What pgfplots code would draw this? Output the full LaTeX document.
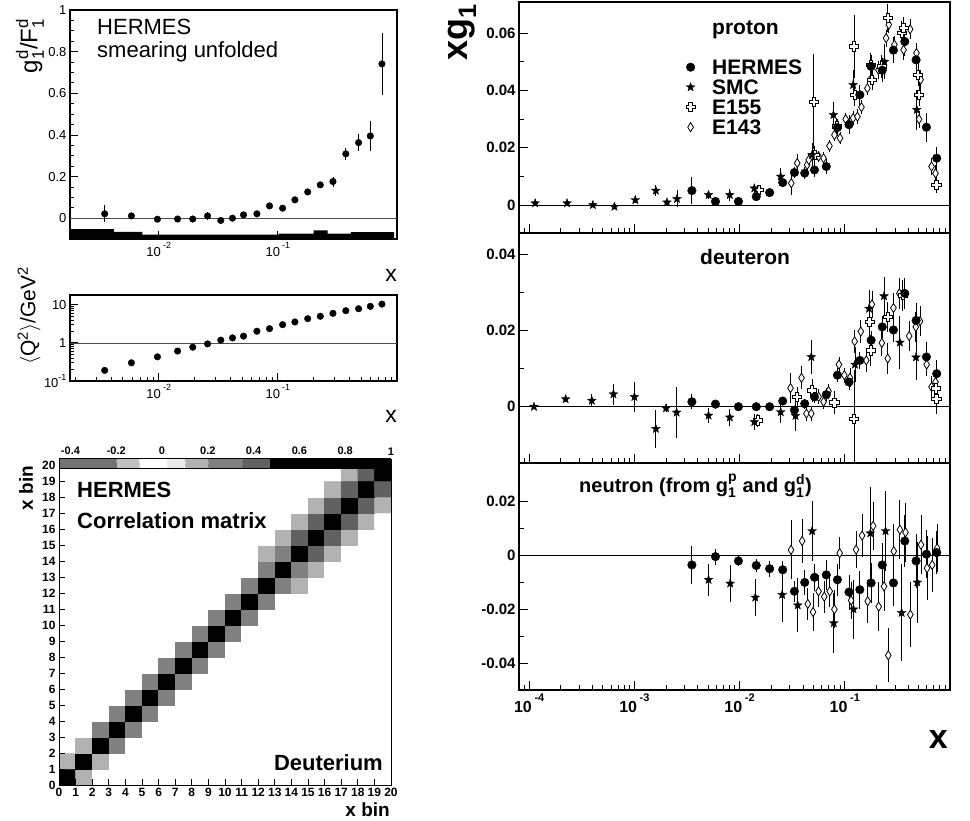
\documentclass[border=0pt]{standalone}
\usepackage{fontspec}
\setmainfont{Liberation Sans}
\usepackage{amsmath}
\usepackage{pgfplots}
\pgfplotsset{compat=1.18}
\newcommand\fs[1]{\fontsize{#1}{#1}\selectfont}

\pgfdeclareplotmark{fstar}{%
 \pgfpathmoveto{\pgfpointpolar{90}{\pgfplotmarksize}}%
 \pgfpathlineto{\pgfpointpolar{126}{0.42\pgfplotmarksize}}%
 \pgfpathlineto{\pgfpointpolar{162}{\pgfplotmarksize}}%
 \pgfpathlineto{\pgfpointpolar{198}{0.42\pgfplotmarksize}}%
 \pgfpathlineto{\pgfpointpolar{234}{\pgfplotmarksize}}%
 \pgfpathlineto{\pgfpointpolar{270}{0.42\pgfplotmarksize}}%
 \pgfpathlineto{\pgfpointpolar{306}{\pgfplotmarksize}}%
 \pgfpathlineto{\pgfpointpolar{342}{0.42\pgfplotmarksize}}%
 \pgfpathlineto{\pgfpointpolar{18}{\pgfplotmarksize}}%
 \pgfpathlineto{\pgfpointpolar{54}{0.42\pgfplotmarksize}}%
 \pgfpathclose\pgfusepathqfillstroke}
\pgfdeclareplotmark{ocross}{%
 \pgfpathmoveto{\pgfpoint{-\pgfplotmarksize}{0.36\pgfplotmarksize}}%
 \pgfpathlineto{\pgfpoint{-0.36\pgfplotmarksize}{0.36\pgfplotmarksize}}%
 \pgfpathlineto{\pgfpoint{-0.36\pgfplotmarksize}{\pgfplotmarksize}}%
 \pgfpathlineto{\pgfpoint{0.36\pgfplotmarksize}{\pgfplotmarksize}}%
 \pgfpathlineto{\pgfpoint{0.36\pgfplotmarksize}{0.36\pgfplotmarksize}}%
 \pgfpathlineto{\pgfpoint{\pgfplotmarksize}{0.36\pgfplotmarksize}}%
 \pgfpathlineto{\pgfpoint{\pgfplotmarksize}{-0.36\pgfplotmarksize}}%
 \pgfpathlineto{\pgfpoint{0.36\pgfplotmarksize}{-0.36\pgfplotmarksize}}%
 \pgfpathlineto{\pgfpoint{0.36\pgfplotmarksize}{-\pgfplotmarksize}}%
 \pgfpathlineto{\pgfpoint{-0.36\pgfplotmarksize}{-\pgfplotmarksize}}%
 \pgfpathlineto{\pgfpoint{-0.36\pgfplotmarksize}{-0.36\pgfplotmarksize}}%
 \pgfpathlineto{\pgfpoint{-\pgfplotmarksize}{-0.36\pgfplotmarksize}}%
 \pgfpathclose\pgfusepathqfillstroke}
\pgfdeclareplotmark{odiam}{%
 \pgfpathmoveto{\pgfpoint{0pt}{\pgfplotmarksize}}%
 \pgfpathlineto{\pgfpoint{0.62\pgfplotmarksize}{0pt}}%
 \pgfpathlineto{\pgfpoint{0pt}{-\pgfplotmarksize}}%
 \pgfpathlineto{\pgfpoint{-0.62\pgfplotmarksize}{0pt}}%
 \pgfpathclose\pgfusepathqfillstroke}

\pgfplotsset{
 colormap={hermesgray}{color(0pt)=(black!55) color(25pt)=(black!25) color(35pt)=(white) color(47pt)=(black!8) color(55pt)=(black!30) color(65pt)=(black!50) color(80pt)=(black!62) color(92pt)=(black) color(145pt)=(black)},
}

\begin{document}
\begin{tikzpicture}
\path[use as bounding box] (0pt,0pt) rectangle (970pt,-821pt);

% ---------------- g1/F1 ----------------
\begin{axis}[scale only axis, anchor=north west, tick align=inside, tick pos=left,
 axis line style={line width=1.2pt}, tick style={line width=0.8pt, black}, major tick length=8pt, minor tick length=4pt,
 at={(70pt,-10pt)}, width=327pt, height=229pt,
 xmode=log, xmin=0.0018, xmax=1, ymin=-0.1, ymax=1, scaled y ticks=false,
 xtick={0.01,0.1}, xticklabels={10\,\raisebox{0.6em}{\fs{9}-2},10\,\raisebox{0.6em}{\fs{9}-1}},
 minor xtick={0.002,0.003,0.004,0.005,0.006,0.007,0.008,0.009,0.02,0.03,0.04,0.05,0.06,0.07,0.08,0.09,0.2,0.3,0.4,0.5,0.6,0.7,0.8,0.9},
 ytick={0,0.2,0.4,0.6,0.8,1}, yticklabels={0,0.2,0.4,0.6,0.8,1}, minor y tick num=3,
 tick label style={font=\fs{13}}]
\addplot[fill=black, draw=none] coordinates {(0.0018,-0.1) (0.0018,-0.052) (0.0042,-0.052) (0.0042,-0.066) (0.0073,-0.066) (0.0073,-0.079) (0.102,-0.079) (0.102,-0.074) (0.2,-0.074) (0.2,-0.058) (0.262,-0.058) (0.262,-0.074) (0.41,-0.074) (0.41,-0.067) (0.944,-0.067) (0.944,-0.1)};
\addplot[black!70, line width=0.6pt] coordinates {(0.0018,0) (1,0)};
\addplot[only marks, mark=*, mark size=3.3pt, black, error bars/.cd, y dir=both, y explicit, error mark=none, error bar style={line width=0.8pt, black}] table[x=x, y=y, y error=e, row sep=\\] {
x y e\\ 0.00352 0.021 0.040\\ 0.0059 0.011 0.008\\ 0.00975 -0.005 0.006\\ 0.0144 -0.004 0.005\\
0.0193 -0.004 0.006\\ 0.0257 0.011 0.020\\ 0.0332 -0.011 0.008\\ 0.0416 0.000 0.008\\
0.0515 0.016 0.010\\ 0.0667 0.021 0.012\\ 0.0851 0.059 0.010\\ 0.1096 0.048 0.010\\
0.139 0.088 0.012\\ 0.178 0.126 0.012\\ 0.227 0.160 0.014\\ 0.290 0.176 0.024\\
0.372 0.309 0.028\\ 0.476 0.363 0.040\\ 0.597 0.395 0.072\\ 0.748 0.741 0.150\\
};
\end{axis}
\node[anchor=base west, inner sep=0pt, font=\fs{22}] at (97pt,-35pt) {HERMES};
\node[anchor=base west, inner sep=0pt, font=\fs{22}] at (97pt,-58pt) {smearing unfolded};
\node[rotate=90, inner sep=0pt, font=\fs{24}] at (30pt,-46pt) {g$^{\text{d}}_{\text{1}}$/F$^{\text{d}}_{\text{1}}$};
\node[anchor=base east, inner sep=0pt, font=\fs{23}] at (397pt,-282pt) {x};

% ---------------- Q2 ----------------
\begin{axis}[scale only axis, anchor=north west, tick align=inside, tick pos=left,
 axis line style={line width=1.2pt}, tick style={line width=0.8pt, black}, major tick length=8pt, minor tick length=4pt,
 at={(70pt,-295pt)}, width=327pt, height=86pt,
 xmode=log, ymode=log, xmin=0.0018, xmax=1, ymin=0.1, ymax=18,
 xtick={0.01,0.1}, xticklabels={10\,\raisebox{0.6em}{\fs{9}-2},10\,\raisebox{0.6em}{\fs{9}-1}},
 minor xtick={0.002,0.003,0.004,0.005,0.006,0.007,0.008,0.009,0.02,0.03,0.04,0.05,0.06,0.07,0.08,0.09,0.2,0.3,0.4,0.5,0.6,0.7,0.8,0.9},
 ytick={0.1,1,10}, yticklabels={10\raisebox{0.6em}{\fs{9}-1},1,10},
 tick label style={font=\fs{13}}]
\addplot[black!70, line width=0.6pt] coordinates {(0.0018,1) (1,1)};
\addplot[only marks, mark=*, mark size=3.3pt, black] table[x=x, y=y, row sep=\\] {
x y\\ 0.00352 0.19\\ 0.0059 0.30\\ 0.00975 0.43\\ 0.0144 0.61\\ 0.0193 0.77\\ 0.0257 0.94\\
0.0332 1.18\\ 0.0416 1.35\\ 0.0515 1.50\\ 0.0667 2.02\\ 0.0851 2.36\\ 0.1096 3.0\\ 0.139 3.53\\
0.178 4.31\\ 0.227 4.98\\ 0.290 5.96\\ 0.372 6.97\\ 0.476 7.86\\ 0.597 9.08\\ 0.748 10.4\\
};
\end{axis}
\node[rotate=90, inner sep=0pt, font=\fs{21}] at (29pt,-316pt) {$\langle$Q$^{\text{2}}\rangle$/GeV$^{\text{2}}$};
\node[anchor=base east, inner sep=0pt, font=\fs{23}] at (397pt,-422pt) {x};

% ---------------- correlation matrix ----------------
\begin{axis}[scale only axis, anchor=north west, tick align=inside, tick pos=left,
 tick style={line width=0.8pt, black},
 at={(59pt,-465pt)}, width=332pt, height=320pt,
 xmin=-0.5, xmax=19.5, ymin=-0.5, ymax=19.5, axis on top,
 xtick={-0.5,0.5,...,19.5}, ytick={-0.5,0.5,...,19.5},
 xticklabels={0,1,2,3,4,5,6,7,8,9,10,11,12,13,14,15,16,17,18,19,20},
 yticklabels={0,1,2,3,4,5,6,7,8,9,10,11,12,13,14,15,16,17,18,19,20},
 tick label style={font=\fs{12}\bfseries}, major tick length=6pt, axis line style={line width=1pt},
 colormap name=hermesgray, colormap access=piecewise constant,
 point meta min=-0.45, point meta max=1,
 colorbar horizontal,
 colorbar style={at={(parent axis.north west)}, anchor=south west, yshift=5pt, scale only axis, width=332pt, height=10pt,
   xtick={-0.4,-0.2,0,0.2,0.4,0.6,0.8,1}, xticklabels={-0.4,-0.2,0,0.2,0.4,0.6,0.8,1},
   xticklabel pos=upper, tick label style={font=\fs{11}\bfseries}, major tick length=0pt, axis line style={line width=0.5pt}}]
\addplot[matrix plot*, mesh/cols=20, point meta=explicit] coordinates {
(0,0)[1] (1,0)[.15] (2,0)[0] (3,0)[0] (4,0)[0] (5,0)[0] (6,0)[0] (7,0)[0] (8,0)[0] (9,0)[0] (10,0)[0] (11,0)[0] (12,0)[0] (13,0)[0] (14,0)[0] (15,0)[0] (16,0)[0] (17,0)[0] (18,0)[0] (19,0)[0]
(0,1)[.15] (1,1)[1] (2,1)[.15] (3,1)[0] (4,1)[0] (5,1)[0] (6,1)[0] (7,1)[0] (8,1)[0] (9,1)[0] (10,1)[0] (11,1)[0] (12,1)[0] (13,1)[0] (14,1)[0] (15,1)[0] (16,1)[0] (17,1)[0] (18,1)[0] (19,1)[0]
(0,2)[0] (1,2)[.15] (2,2)[1] (3,2)[.22] (4,2)[0] (5,2)[0] (6,2)[0] (7,2)[0] (8,2)[0] (9,2)[0] (10,2)[0] (11,2)[0] (12,2)[0] (13,2)[0] (14,2)[0] (15,2)[0] (16,2)[0] (17,2)[0] (18,2)[0] (19,2)[0]
(0,3)[0] (1,3)[0] (2,3)[.22] (3,3)[1] (4,3)[.3] (5,3)[0] (6,3)[0] (7,3)[0] (8,3)[0] (9,3)[0] (10,3)[0] (11,3)[0] (12,3)[0] (13,3)[0] (14,3)[0] (15,3)[0] (16,3)[0] (17,3)[0] (18,3)[0] (19,3)[0]
(0,4)[0] (1,4)[0] (2,4)[0] (3,4)[.3] (4,4)[1] (5,4)[.3] (6,4)[0] (7,4)[0] (8,4)[0] (9,4)[0] (10,4)[0] (11,4)[0] (12,4)[0] (13,4)[0] (14,4)[0] (15,4)[0] (16,4)[0] (17,4)[0] (18,4)[0] (19,4)[0]
(0,5)[0] (1,5)[0] (2,5)[0] (3,5)[0] (4,5)[.3] (5,5)[1] (6,5)[.3] (7,5)[0] (8,5)[0] (9,5)[0] (10,5)[0] (11,5)[0] (12,5)[0] (13,5)[0] (14,5)[0] (15,5)[0] (16,5)[0] (17,5)[0] (18,5)[0] (19,5)[0]
(0,6)[0] (1,6)[0] (2,6)[0] (3,6)[0] (4,6)[0] (5,6)[.3] (6,6)[1] (7,6)[.3] (8,6)[0] (9,6)[0] (10,6)[0] (11,6)[0] (12,6)[0] (13,6)[0] (14,6)[0] (15,6)[0] (16,6)[0] (17,6)[0] (18,6)[0] (19,6)[0]
(0,7)[0] (1,7)[0] (2,7)[0] (3,7)[0] (4,7)[0] (5,7)[0] (6,7)[.3] (7,7)[1] (8,7)[.3] (9,7)[0] (10,7)[0] (11,7)[0] (12,7)[0] (13,7)[0] (14,7)[0] (15,7)[0] (16,7)[0] (17,7)[0] (18,7)[0] (19,7)[0]
(0,8)[0] (1,8)[0] (2,8)[0] (3,8)[0] (4,8)[0] (5,8)[0] (6,8)[0] (7,8)[.3] (8,8)[1] (9,8)[.3] (10,8)[0] (11,8)[0] (12,8)[0] (13,8)[0] (14,8)[0] (15,8)[0] (16,8)[0] (17,8)[0] (18,8)[0] (19,8)[0]
(0,9)[0] (1,9)[0] (2,9)[0] (3,9)[0] (4,9)[0] (5,9)[0] (6,9)[0] (7,9)[0] (8,9)[.3] (9,9)[1] (10,9)[.3] (11,9)[0] (12,9)[0] (13,9)[0] (14,9)[0] (15,9)[0] (16,9)[0] (17,9)[0] (18,9)[0] (19,9)[0]
(0,10)[0] (1,10)[0] (2,10)[0] (3,10)[0] (4,10)[0] (5,10)[0] (6,10)[0] (7,10)[0] (8,10)[0] (9,10)[.3] (10,10)[1] (11,10)[.3] (12,10)[0] (13,10)[0] (14,10)[0] (15,10)[0] (16,10)[0] (17,10)[0] (18,10)[0] (19,10)[0]
(0,11)[0] (1,11)[0] (2,11)[0] (3,11)[0] (4,11)[0] (5,11)[0] (6,11)[0] (7,11)[0] (8,11)[0] (9,11)[0] (10,11)[.3] (11,11)[1] (12,11)[.3] (13,11)[0] (14,11)[0] (15,11)[0] (16,11)[0] (17,11)[0] (18,11)[0] (19,11)[0]
(0,12)[0] (1,12)[0] (2,12)[0] (3,12)[0] (4,12)[0] (5,12)[0] (6,12)[0] (7,12)[0] (8,12)[0] (9,12)[0] (10,12)[0] (11,12)[.3] (12,12)[1] (13,12)[.3] (14,12)[.12] (15,12)[0] (16,12)[0] (17,12)[0] (18,12)[0] (19,12)[0]
(0,13)[0] (1,13)[0] (2,13)[0] (3,13)[0] (4,13)[0] (5,13)[0] (6,13)[0] (7,13)[0] (8,13)[0] (9,13)[0] (10,13)[0] (11,13)[0] (12,13)[.3] (13,13)[1] (14,13)[.3] (15,13)[.12] (16,13)[0] (17,13)[0] (18,13)[0] (19,13)[0]
(0,14)[0] (1,14)[0] (2,14)[0] (3,14)[0] (4,14)[0] (5,14)[0] (6,14)[0] (7,14)[0] (8,14)[0] (9,14)[0] (10,14)[0] (11,14)[0] (12,14)[.12] (13,14)[.3] (14,14)[1] (15,14)[.4] (16,14)[.12] (17,14)[0] (18,14)[0] (19,14)[0]
(0,15)[0] (1,15)[0] (2,15)[0] (3,15)[0] (4,15)[0] (5,15)[0] (6,15)[0] (7,15)[0] (8,15)[0] (9,15)[0] (10,15)[0] (11,15)[0] (12,15)[0] (13,15)[.12] (14,15)[.4] (15,15)[1] (16,15)[.4] (17,15)[.12] (18,15)[0] (19,15)[0]
(0,16)[0] (1,16)[0] (2,16)[0] (3,16)[0] (4,16)[0] (5,16)[0] (6,16)[0] (7,16)[0] (8,16)[0] (9,16)[0] (10,16)[0] (11,16)[0] (12,16)[0] (13,16)[0] (14,16)[.12] (15,16)[.4] (16,16)[1] (17,16)[.4] (18,16)[.12] (19,16)[0]
(0,17)[0] (1,17)[0] (2,17)[0] (3,17)[0] (4,17)[0] (5,17)[0] (6,17)[0] (7,17)[0] (8,17)[0] (9,17)[0] (10,17)[0] (11,17)[0] (12,17)[0] (13,17)[0] (14,17)[0] (15,17)[.12] (16,17)[.4] (17,17)[1] (18,17)[.4] (19,17)[.12]
(0,18)[0] (1,18)[0] (2,18)[0] (3,18)[0] (4,18)[0] (5,18)[0] (6,18)[0] (7,18)[0] (8,18)[0] (9,18)[0] (10,18)[0] (11,18)[0] (12,18)[0] (13,18)[0] (14,18)[0] (15,18)[0] (16,18)[.12] (17,18)[.4] (18,18)[1] (19,18)[.4]
(0,19)[0] (1,19)[0] (2,19)[0] (3,19)[0] (4,19)[0] (5,19)[0] (6,19)[0] (7,19)[0] (8,19)[0] (9,19)[0] (10,19)[0] (11,19)[0] (12,19)[0] (13,19)[0] (14,19)[0] (15,19)[0] (16,19)[0] (17,19)[.12] (18,19)[.4] (19,19)[1]
};
\end{axis}
\node[anchor=base west, inner sep=0pt, font=\fs{22}\bfseries] at (77pt,-497pt) {HERMES};
\node[anchor=base west, inner sep=0pt, font=\fs{22}\bfseries] at (77pt,-528pt) {Correlation matrix};
\node[anchor=base east, inner sep=0pt, font=\fs{22}\bfseries] at (383pt,-770pt) {Deuterium};
\node[rotate=90, inner sep=0pt, font=\fs{19}\bfseries] at (26pt,-488pt) {x bin};
\node[anchor=base east, inner sep=0pt, font=\fs{19}\bfseries] at (390pt,-816pt) {x bin};

% ---------------- proton ----------------
\begin{axis}[scale only axis, anchor=north west, tick align=inside, tick pos=left,
 axis line style={line width=1.4pt}, tick style={line width=0.8pt, black}, major tick length=9pt, minor tick length=5pt,
 xmode=log, xmin=8e-5, xmax=1, width=431pt, xtick={1e-4,1e-3,1e-2,1e-1},
 minor xtick={9e-5,2e-4,3e-4,4e-4,5e-4,6e-4,7e-4,8e-4,9e-4,2e-3,3e-3,4e-3,5e-3,6e-3,7e-3,8e-3,9e-3,0.02,0.03,0.04,0.05,0.06,0.07,0.08,0.09,0.2,0.3,0.4,0.5,0.6,0.7,0.8,0.9},
 minor y tick num=1, tick label style={font=\fs{15}\bfseries}, scaled y ticks=false,
 at={(519pt,-2pt)}, height=231pt, ymin=-0.0098, ymax=0.0708, xticklabels={},
 ytick={0,0.02,0.04,0.06}, yticklabels={0,0.02,0.04,0.06},
 reverse legend, legend style={at={(0.387,0.762)}, anchor=north west, draw=none, fill=none, inner sep=0pt, font=\fs{21}\bfseries, nodes={inner xsep=3pt, inner ysep=2.5pt, text height=15pt, text depth=0pt}},
 legend cell align=left]
\addplot[black, line width=0.6pt, forget plot] coordinates {(8e-5,0) (1,0)};
\addplot[only marks, mark=odiam, mark size=4.6pt, mark options={fill=white, draw=black, line width=0.8pt}, error bars/.cd, y dir=both, y explicit, error mark=none, error bar style={line width=0.8pt, black}] table[x=x, y=y, y error=e, row sep=\\] {
x y e\\ 0.031 0.0076 0.0040\\ 0.0353 0.0146 0.0030\\ 0.0439 0.0140 0.0020\\ 0.0454 0.0157 0.0020\\
0.0564 0.0169 0.0020\\ 0.0628 0.0163 0.0020\\ 0.0715 0.0206 0.0020\\ 0.0797 0.0244 0.0020\\
0.0901 0.0233 0.0020\\ 0.102 0.0299 0.0020\\ 0.120 0.0303 0.0025\\ 0.132 0.0308 0.0025\\
0.144 0.0341 0.0025\\ 0.164 0.0407 0.0025\\ 0.179 0.0442 0.0025\\ 0.209 0.0471 0.0030\\
0.247 0.0582 0.0030\\ 0.262 0.0629 0.0030\\ 0.296 0.0559 0.0030\\ 0.362 0.0541 0.0035\\
0.418 0.0613 0.0035\\ 0.480 0.0530 0.0035\\ 0.526 0.0437 0.0035\\ 0.508 0.0299 0.0030\\
0.668 0.0134 0.0030\\ 0.728 0.0110 0.0030\\
};
\addlegendentry{\hspace{14pt}E143}
\addplot[only marks, mark=ocross, mark size=4.6pt, mark options={fill=white, draw=black, line width=0.9pt}, error bars/.cd, y dir=both, y explicit, error mark=none, error bar style={line width=0.8pt, black}] table[x=x, y=y, y error=e, row sep=\\] {
x y e\\ 0.0152 0.0052 0.0012\\ 0.0506 0.0360 0.0165\\ 0.0518 0.0175 0.0030\\ 0.0838 0.0274 0.0030\\
0.1227 0.0553 0.0110\\ 0.1245 0.0384 0.0040\\ 0.176 0.0489 0.0040\\ 0.181 0.0437 0.0035\\
0.225 0.0483 0.0040\\ 0.256 0.0652 0.0050\\ 0.347 0.0600 0.0040\\ 0.362 0.0617 0.0040\\
0.497 0.0454 0.0040\\ 0.510 0.0384 0.0040\\ 0.745 0.0070 0.0030\\
};
\addlegendentry{\hspace{14pt}E155}
\addplot[only marks, mark=fstar, mark size=4.6pt, mark options={fill=black, draw=black, line width=0.3pt}, error bars/.cd, y dir=both, y explicit, error mark=none, error bar style={line width=0.8pt, black}] table[x=x, y=y, y error=e, row sep=\\] {
x y e\\ 1.14e-4 0.0006 0.0006\\ 2.29e-4 0.0006 0.0006\\ 4.03e-4 0.0000 0.0006\\ 6.46e-4 -0.0006 0.0008\\
1.02e-3 0.0017 0.0010\\ 1.60e-3 0.0050 0.0020\\ 2.04e-3 0.0009 0.0008\\ 2.54e-3 0.0021 0.0030\\
5.07e-3 0.0035 0.0015\\ 8.07e-3 0.0035 0.0020\\ 0.0138 0.0058 0.0015\\ 0.0246 0.0099 0.0030\\
0.0489 0.0175 0.0040\\ 0.078 0.0314 0.0045\\ 0.120 0.0419 0.0050\\ 0.238 0.0500 0.0060\\
0.483 0.0332 0.0070\\
};
\addlegendentry{\hspace{14pt}SMC}
\addplot[only marks, mark=*, mark size=4.3pt, mark options={fill=black, draw=black, line width=0.4pt}, error bars/.cd, y dir=both, y explicit, error mark=none, error bar style={line width=0.8pt, black}] table[x=x, y=y, y error=e, row sep=\\] {
x y e\\ 0.00352 0.0050 0.0048\\ 0.0059 0.0012 0.0010\\ 0.00975 0.0012 0.0008\\ 0.0144 0.0029 0.0012\\
0.0193 0.0043 0.0014\\ 0.0257 0.0078 0.0016\\ 0.0332 0.0113 0.0020\\ 0.0416 0.0111 0.0022\\
0.0515 0.0122 0.0025\\ 0.0667 0.0134 0.0026\\ 0.0851 0.0270 0.0030\\ 0.1096 0.0280 0.0032\\
0.139 0.0384 0.0036\\ 0.178 0.0483 0.0040\\ 0.227 0.0470 0.0042\\ 0.290 0.0540 0.0045\\
0.372 0.0570 0.0050\\ 0.476 0.0506 0.0055\\ 0.597 0.0271 0.0050\\ 0.748 0.0163 0.0040\\
};
\addlegendentry{\hspace{14pt}HERMES}
\end{axis}
\node[anchor=base west, inner sep=0pt, font=\fs{21}\bfseries] at (712pt,-35pt) {proton};
\node[rotate=90, inner sep=0pt, font=\fs{36}\bfseries] at (462pt,-32pt) {xg$_{\text{1}}$};

% ---------------- deuteron ----------------
\begin{axis}[scale only axis, anchor=north west, tick align=inside, tick pos=left,
 axis line style={line width=1.4pt}, tick style={line width=0.8pt, black}, major tick length=9pt, minor tick length=5pt,
 xmode=log, xmin=8e-5, xmax=1, width=431pt, xtick={1e-4,1e-3,1e-2,1e-1},
 minor xtick={9e-5,2e-4,3e-4,4e-4,5e-4,6e-4,7e-4,8e-4,9e-4,2e-3,3e-3,4e-3,5e-3,6e-3,7e-3,8e-3,9e-3,0.02,0.03,0.04,0.05,0.06,0.07,0.08,0.09,0.2,0.3,0.4,0.5,0.6,0.7,0.8,0.9},
 minor y tick num=1, tick label style={font=\fs{15}\bfseries}, scaled y ticks=false,
 at={(519pt,-233pt)}, height=230pt, ymin=-0.015, ymax=0.0455, xticklabels={},
 ytick={0,0.02,0.04}, yticklabels={0,0.02,0.04}]
\addplot[black, line width=0.6pt] coordinates {(8e-5,0) (1,0)};
\addplot[only marks, mark=odiam, mark size=4.6pt, mark options={fill=white, draw=black, line width=0.8pt}, error bars/.cd, y dir=both, y explicit, error mark=none, error bar style={line width=0.8pt, black}] table[x=x, y=y, y error=e, row sep=\\] {
x y e\\ 0.0305 0.0047 0.0040\\ 0.0388 0.0074 0.0030\\ 0.0432 -0.0020 0.0020\\ 0.0480 -0.0020 0.0020\\
0.0564 0.0024 0.0020\\ 0.0628 0.0011 0.0020\\ 0.0700 0.0039 0.0020\\ 0.0880 0.0109 0.0020\\
0.0990 0.0081 0.0020\\ 0.1120 0.0074 0.0025\\ 0.1240 0.0170 0.0030\\ 0.1420 0.0196 0.0030\\
0.1600 0.0120 0.0030\\ 0.1810 0.0267 0.0035\\ 0.2250 0.0166 0.0035\\ 0.2560 0.0125 0.0040\\
0.2900 0.0258 0.0040\\ 0.3300 0.0296 0.0040\\ 0.4090 0.0184 0.0040\\ 0.4730 0.0208 0.0040\\
0.5190 0.0223 0.0040\\ 0.6000 0.0109 0.0030\\ 0.6680 0.0050 0.0030\\ 0.7280 0.0063 0.0030\\
};
\addplot[only marks, mark=ocross, mark size=4.6pt, mark options={fill=white, draw=black, line width=0.9pt}, error bars/.cd, y dir=both, y explicit, error mark=none, error bar style={line width=0.8pt, black}] table[x=x, y=y, y error=e, row sep=\\] {
x y e\\ 0.0149 -0.0038 0.0018\\ 0.0353 0.0024 0.0025\\ 0.0489 0.0041 0.0030\\ 0.0796 0.0009 0.0030\\
0.1228 -0.0035 0.0130\\ 0.172 0.0221 0.0040\\ 0.176 0.0146 0.0040\\ 0.256 0.0234 0.0040\\
0.355 0.0291 0.0040\\ 0.735 0.0046 0.0030\\ 0.745 0.0019 0.0040\\
};
\addplot[only marks, mark=fstar, mark size=4.6pt, mark options={fill=black, draw=black, line width=0.3pt}, error bars/.cd, y dir=both, y explicit, error mark=none, error bar style={line width=0.8pt, black}] table[x=x, y=y, y error=e, row sep=\\] {
x y e\\ 1.11e-4 -0.0002 0.0005\\ 2.22e-4 0.0018 0.0008\\ 3.94e-4 0.0014 0.0018\\ 6.32e-4 0.0031 0.0028\\
1.00e-3 0.0024 0.0040\\ 1.60e-3 -0.0060 0.0050\\ 2.00e-3 -0.0006 0.0010\\ 2.52e-3 -0.0017 0.0068\\
5.07e-3 -0.0025 0.0020\\ 8.07e-3 -0.0030 0.0022\\ 0.0138 -0.0042 0.0020\\ 0.0246 -0.0016 0.0030\\
0.034 -0.0026 0.0040\\ 0.048 0.0129 0.0045\\ 0.125 0.0109 0.0045\\ 0.170 0.0256 0.0050\\
0.236 0.0289 0.0050\\ 0.334 0.0167 0.0070\\ 0.475 0.0128 0.0060\\
};
\addplot[only marks, mark=*, mark size=4.3pt, mark options={fill=black, draw=black, line width=0.4pt}, error bars/.cd, y dir=both, y explicit, error mark=none, error bar style={line width=0.8pt, black}] table[x=x, y=y, y error=e, row sep=\\] {
x y e\\ 0.00352 0.0011 0.0020\\ 0.0059 0.0005 0.0012\\ 0.00975 -0.0002 0.0008\\ 0.0144 -0.0002 0.0008\\
0.0193 -0.0002 0.0009\\ 0.0257 0.0013 0.0010\\ 0.0332 -0.0011 0.0012\\ 0.0416 0.0006 0.0013\\
0.0515 0.0024 0.0015\\ 0.0667 0.0030 0.0016\\ 0.0851 0.0081 0.0018\\ 0.1096 0.0063 0.0020\\
0.139 0.0120 0.0022\\ 0.178 0.0173 0.0025\\ 0.227 0.0208 0.0028\\ 0.290 0.0200 0.0032\\
0.372 0.0296 0.0040\\ 0.476 0.0225 0.0045\\ 0.597 0.0129 0.0040\\ 0.748 0.0085 0.0035\\
};
\end{axis}
\node[anchor=base west, inner sep=0pt, font=\fs{21}\bfseries] at (700pt,-265pt) {deuteron};

% ---------------- neutron ----------------
\begin{axis}[scale only axis, anchor=north west, tick align=inside, tick pos=left,
 axis line style={line width=1.4pt}, tick style={line width=0.8pt, black}, major tick length=9pt, minor tick length=5pt,
 xmode=log, xmin=8e-5, xmax=1, width=431pt, xtick={1e-4,1e-3,1e-2,1e-1},
 minor xtick={9e-5,2e-4,3e-4,4e-4,5e-4,6e-4,7e-4,8e-4,9e-4,2e-3,3e-3,4e-3,5e-3,6e-3,7e-3,8e-3,9e-3,0.02,0.03,0.04,0.05,0.06,0.07,0.08,0.09,0.2,0.3,0.4,0.5,0.6,0.7,0.8,0.9},
 minor y tick num=1, tick label style={font=\fs{15}\bfseries}, scaled y ticks=false,
 at={(519pt,-463pt)}, height=227pt, ymin=-0.05, ymax=0.0344,
 xticklabels={\textbf{10}\,\raisebox{0.72em}{\fs{11}\textbf{-4}},\textbf{10}\,\raisebox{0.72em}{\fs{11}\textbf{-3}},\textbf{10}\,\raisebox{0.72em}{\fs{11}\textbf{-2}},\textbf{10}\,\raisebox{0.72em}{\fs{11}\textbf{-1}}},
 xticklabel style={font=\fs{16}\bfseries},
 ytick={-0.04,-0.02,0,0.02}, yticklabels={-0.04,-0.02,0,0.02}]
\addplot[black, line width=0.6pt] coordinates {(8e-5,0) (1,0)};
\addplot[only marks, mark=odiam, mark size=4.6pt, mark options={fill=white, draw=black, line width=0.8pt}, error bars/.cd, y dir=both, y explicit, error mark=none, error bar style={line width=0.8pt, black}] table[x=x, y=y, y error=e, row sep=\\] {
x y e\\ 0.0308 0.0021 0.0110\\ 0.0393 0.0054 0.0080\\ 0.0445 -0.0180 0.0060\\ 0.0499 -0.0210 0.0070\\
0.0563 -0.0133 0.0060\\ 0.0638 -0.0153 0.0060\\ 0.0720 -0.0133 0.0060\\ 0.0797 -0.0200 0.0070\\
0.0894 0.0009 0.0060\\ 0.1148 -0.0167 0.0070\\ 0.128 0.0022 0.0070\\ 0.146 0.0074 0.0080\\
0.165 -0.0170 0.0080\\ 0.186 0.0110 0.0090\\ 0.210 -0.0190 0.0090\\ 0.236 -0.0115 0.0090\\
0.259 -0.0371 0.0100\\ 0.292 0.0016 0.0100\\ 0.334 0.0096 0.0110\\ 0.378 0.0086 0.0110\\
0.420 -0.0220 0.0120\\ 0.530 0.0040 0.0110\\ 0.605 -0.0047 0.0120\\ 0.677 -0.0035 0.0100\\
0.755 0.0027 0.0090\\
};
\addplot[only marks, mark=fstar, mark size=4.6pt, mark options={fill=black, draw=black, line width=0.3pt}, error bars/.cd, y dir=both, y explicit, error mark=none, error bar style={line width=0.8pt, black}] table[x=x, y=y, y error=e, row sep=\\] {
x y e\\ 5.07e-3 -0.0090 0.0060\\ 8.14e-3 -0.0104 0.0070\\ 0.0141 -0.0156 0.0070\\ 0.0254 -0.0146 0.0100\\
0.0357 -0.0185 0.0100\\ 0.0489 0.0091 0.0110\\ 0.0786 -0.0251 0.0110\\ 0.121 -0.0200 0.0110\\
0.175 0.0083 0.0170\\ 0.244 0.0091 0.0150\\ 0.347 -0.0213 0.0180\\ 0.489 -0.0100 0.0150\\
};
\addplot[only marks, mark=*, mark size=4.3pt, mark options={fill=black, draw=black, line width=0.4pt}, error bars/.cd, y dir=both, y explicit, error mark=none, error bar style={line width=0.8pt, black}] table[x=x, y=y, y error=e, row sep=\\] {
x y e\\ 0.00352 -0.0035 0.0072\\ 0.0059 -0.0004 0.0030\\ 0.00975 -0.0020 0.0020\\ 0.0144 -0.0037 0.0025\\
0.0193 -0.0049 0.0030\\ 0.0257 -0.0053 0.0032\\ 0.0332 -0.0133 0.0040\\ 0.0416 -0.0100 0.0045\\
0.0515 -0.0081 0.0050\\ 0.0667 -0.0072 0.0055\\ 0.0851 -0.0090 0.0060\\ 0.1096 -0.0136 0.0065\\
0.139 -0.0127 0.0070\\ 0.178 -0.0102 0.0075\\ 0.227 -0.0035 0.0080\\ 0.290 -0.0102 0.0085\\
0.372 0.0054 0.0095\\ 0.476 -0.0020 0.0100\\ 0.597 0.0005 0.0090\\ 0.748 0.0011 0.0080\\
};
\end{axis}
\node[anchor=base west, inner sep=0pt, font=\fs{20}\bfseries] at (579pt,-492pt) {neutron (from g$^{\text{p}}_{\text{1}}$ and g$^{\text{d}}_{\text{1}}$)};
\node[anchor=base east, inner sep=0pt, font=\fs{34}\bfseries] at (948pt,-748pt) {x};
\end{tikzpicture}
\end{document}
